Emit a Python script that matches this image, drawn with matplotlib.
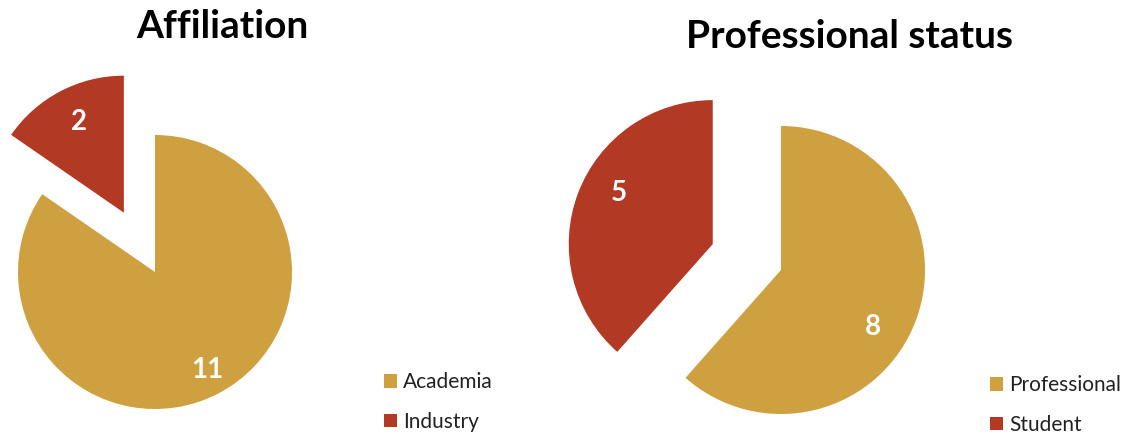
import matplotlib.pyplot as plt

# data
aff_labels = ["Academia", "Industry"]
aff_values = [11, 2]
prof_labels = ["Professional", "Student"]
prof_values = [8, 5]

gold = "#CEA040"
red = "#B23924"

fig = plt.figure(figsize=(11.29, 4.34), dpi=100)
ax = fig.add_axes([0, 0, 1, 1])

H = 434


def counts(vals):
    total = sum(vals)
    return lambda p: "%d" % round(p * total / 100.0)


# explode is in data units here (pixels), radius too
w1, _, t1 = ax.pie(aff_values, colors=[gold, red], startangle=90,
                   counterclock=False, explode=[0, 67],
                   center=(155, H - 272), radius=137,
                   autopct=counts(aff_values), pctdistance=0.8)
w2, _, t2 = ax.pie(prof_values, colors=[gold, red], startangle=90,
                   counterclock=False, explode=[0, 73],
                   center=(781, H - 270), radius=144,
                   autopct=counts(prof_values), pctdistance=0.75)

# nudge the value labels to where the original puts them
label_pos = [(207, 370), (79, 122), (873, 327), (619, 193)]
for t, (px, py) in zip(list(t1) + list(t2), label_pos):
    t.set_position((px, H - py))
    t.set_color("white")
    t.set_fontweight("bold")
    t.set_fontsize(20)
    t.set_family("Lato")

ax.set_xlim(0, 1129)
ax.set_ylim(0, H)
ax.set_aspect("auto")
ax.axis("off")

ax.text(222, H - 26, "Affiliation", ha="center", va="center",
        fontsize=28, fontweight="bold", family="Lato")
ax.text(849, H - 36, "Professional status", ha="center", va="center",
        fontsize=28, fontweight="bold", family="Lato")

leg_kw = dict(frameon=False, handlelength=0.6, handleheight=0.6,
              handletextpad=0.3, labelspacing=0.95,
              prop={"family": "Lato", "size": 15},
              labelcolor="#222222", loc="upper left",
              bbox_transform=fig.transFigure, borderaxespad=0)
leg1 = ax.legend(w1, aff_labels, bbox_to_anchor=(376 / 1129, 1 - 364 / H),
                 **leg_kw)
ax.add_artist(leg1)
ax.legend(w2, prof_labels, bbox_to_anchor=(982 / 1129, 1 - 367 / H),
          **leg_kw)

fig.savefig("out.png", dpi=100, facecolor="white")
